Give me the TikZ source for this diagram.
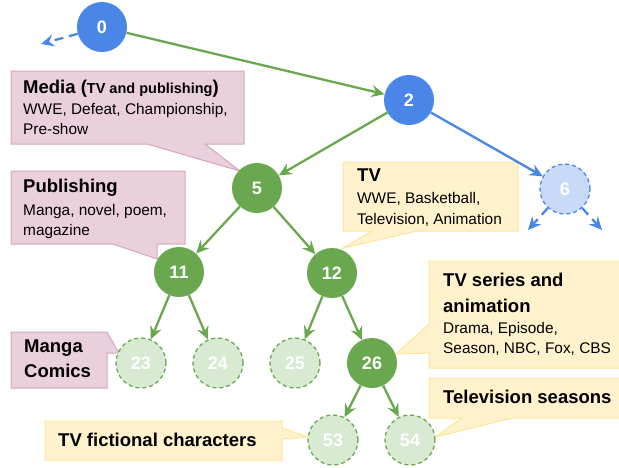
\documentclass[tikz,border=0pt]{standalone}
\usepackage{fontspec}
\setmainfont{Liberation Sans}
\usetikzlibrary{arrows.meta}
\definecolor{blu}{HTML}{4A86E8}
\definecolor{blul}{HTML}{C9DAF8}
\definecolor{grn}{HTML}{6AA84F}
\definecolor{grnl}{HTML}{D9EAD3}
\definecolor{pinkf}{HTML}{EACFDC}
\definecolor{pinkd}{HTML}{D5A6BD}
\definecolor{yelf}{HTML}{FFF2CC}
\definecolor{yeld}{HTML}{FFE599}
\begin{document}
\begin{tikzpicture}[x=1pt,y=-1pt,
  nd/.style={circle,minimum size=50pt,inner sep=0pt,text=white,font=\fontsize{18}{18}\selectfont\bfseries},
  blunode/.style={nd,fill=blu},
  grnnode/.style={nd,fill=grn},
  ghostg/.style={nd,fill=grnl,draw=grn,dashed,line width=1.3pt,dash pattern=on 4pt off 3pt},
  ghostb/.style={nd,fill=blul,draw=blu,line width=1.3pt,dash pattern=on 4pt off 3pt},
  ge/.style={draw=grn,line width=2.3pt,-{Stealth[length=13pt,width=12pt,inset=4.5pt]}},
  be/.style={draw=blu,line width=2.3pt,-{Stealth[length=13pt,width=12pt,inset=4.5pt]}},
  bstub/.style={be,dash pattern=on 9pt off 6pt},
  pinkbox/.style={fill=pinkf,draw=pinkd,line width=1pt},
  yelbox/.style={fill=yelf,draw=yeld,line width=1pt},
  ttl/.style={anchor=base west,inner sep=0pt,font=\fontsize{18.5}{26}\selectfont\bfseries},
  bdy/.style={anchor=base west,inner sep=0pt,font=\fontsize{15.4}{20}\selectfont},
]
\useasboundingbox (0,0) rectangle (619,467);

% callouts
\path[pinkbox] (11,71) -- (244,71) -- (244,144) -- (205,144) -- (240,171) -- (147,144) -- (11,144) -- cycle;
\path[pinkbox] (11,171) -- (185,171) -- (185,244) -- (157,244) -- (157,259) -- (113,244) -- (11,244) -- cycle;
\path[yelbox] (343,162) -- (518,162) -- (518,231) -- (417,231) -- (343,248) -- (372,231) -- (343,231) -- cycle;
\path[yelbox] (429,261) -- (622,261) -- (622,368) -- (429,368) -- (429,353) -- (396,354) -- (429,324) -- cycle;
\path[yelbox] (429,378) -- (622,378) -- (622,418) -- (512,418) -- (435,437) -- (462,418) -- (429,418) -- cycle;
\path[yelbox] (45,421) -- (282,421) -- (282,428) -- (308,437) -- (282,439) -- (282,460) -- (45,460) -- cycle;
\path[pinkbox] (11,332) -- (107,332) -- (119,353) -- (107,353) -- (107,388) -- (11,388) -- cycle;

% texts
\node[ttl] (tmedia) at (23,93) {Media (\fontsize{14.5}{18}\selectfont TV and publishing\fontsize{18.5}{26}\selectfont)};
\node[bdy] (bmedia1) at (23,114) {WWE, Defeat, Championship,};
\node[bdy] (bmedia2) at (23,134) {Pre-show};
\node[ttl] (tpub) at (23,192) {Publishing};
\node[bdy] (bpub1) at (23,215) {Manga, novel, poem,};
\node[bdy] (bpub2) at (23,235) {magazine};
\node[ttl] (ttv) at (357,181) {TV};
\node[bdy] (btv1) at (357,203) {WWE, Basketball,};
\node[bdy] (btv2) at (357,224) {Television, Animation};
\node[ttl] (tser1) at (443,286) {TV series and};
\node[ttl] (tser2) at (443,312) {animation};
\node[bdy] (bser1) at (443,333) {Drama, Episode,};
\node[bdy] (bser2) at (443,353) {Season, NBC, Fox, CBS};
\node[ttl] (tseas) at (443,403) {Television seasons};
\node[ttl] (tfic) at (58,446) {TV fictional characters};
\node[ttl] (tman1) at (24,352) {Manga};
\node[ttl] (tman2) at (24,377) {Comics};

% nodes
\node[blunode] (n0) at (102,27) {0};
\node[blunode] (n2) at (409,100) {2};
\node[grnnode] (n5) at (257,188) {5};
\node[ghostb] (n6) at (565,189) {6};
\node[grnnode] (n11) at (179,272) {11};
\node[grnnode] (n12) at (332,273) {12};
\node[ghostg] (n23) at (141,363) {23};
\node[ghostg] (n24) at (218,363) {24};
\node[ghostg] (n25) at (295,363) {25};
\node[grnnode] (n26) at (372,363) {26};
\node[ghostg] (n53) at (333,440) {53};
\node[ghostg] (n54) at (410,440) {54};

\coordinate (s0) at (41,44);
\coordinate (s6a) at (528,230);
\coordinate (s6b) at (602,230);

% edges
\draw[ge] (n0) -- (n2);
\draw[ge] (n2) -- (n5);
\draw[be] (n2) -- (n6);
\draw[ge] (n5) -- (n11);
\draw[ge] (n5) -- (n12);
\draw[ge] (n11) -- (n23);
\draw[ge] (n11) -- (n24);
\draw[ge] (n12) -- (n25);
\draw[ge] (n12) -- (n26);
\draw[ge] (n26) -- (n53);
\draw[ge] (n26) -- (n54);
\draw[bstub] (n0) -- (s0);
\draw[bstub] (n6) -- (s6a);
\draw[bstub] (n6) -- (s6b);
\end{tikzpicture}
\end{document}
